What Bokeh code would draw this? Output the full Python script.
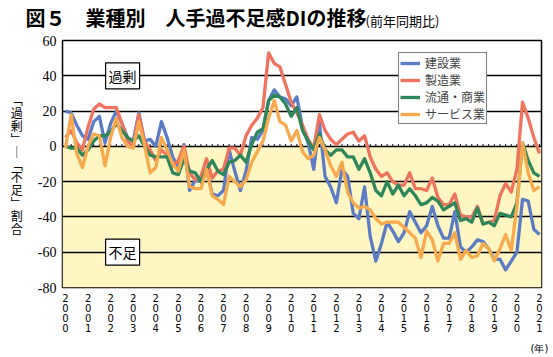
from bokeh.plotting import figure
from bokeh.layouts import column
from bokeh.models import (BoxAnnotation, Label, Legend, LegendItem, FixedTicker, Range1d)
from bokeh.embed import file_html
from bokeh.resources import INLINE

# ---------------- data (quarterly, 2000Q1 .. 2021Q1) ----------------
years = list(range(2000, 2022))
quarter_steps = [0.0, 0.25, 0.5, 0.75]

construction = [20, 19, 12, 6, 4, 14, 17, 2, 13, 20, 13, 5, 3, 19, 3, 4, 0,
                14, 5, -6, -12, 1, -25, -19, -20, -13, -27, -28, -25, -2, -14, -25, -14, 5,
                4, 9, 26, 32, 28, 27, 23, 28, 11, 2, -13, 13, -17, -23, -32, -13, -17,
                -38, -41, -23, -51, -65, -55, -43, -48, -54, -49, -37, -43, -49, -45, -34, -45, -52,
                -52, -37, -57, -60, -57, -53, -54, -58, -64, -64, -70, -65, -60, -30, -31, -47, -50]
manufacturing = [5, 9, 2, -2, 11, 21, 24, 22, 22, 22, 13, 3, 0, 18, 3, -2, -8,
                 -2, -5, -11, -8, 0, -15, -19, -17, -7, -18, -14, -13, -1, -1, -5, 6, 12,
                 16, 22, 53, 47, 45, 35, 25, 19, 12, 4, -1, 18, 9, 4, 1, 4, 7,
                 8, 3, 6, -6, -13, -17, -15, -20, -22, -22, -15, -24, -24, -25, -18, -29, -33,
                 -33, -27, -39, -40, -40, -34, -44, -43, -42, -28, -21, -26, -13, 25, 16, 5, -4]
distribution = [0, -1, -1, -5, -2, 3, 6, 6, 8, 13, 9, 5, 3, 6, 0, -5, -6,
                -6, -6, -15, -16, -7, -14, -15, -20, -13, -8, -14, -16, -9, -8, -5, -9, 1,
                8, 10, 26, 29, 28, 24, 17, 22, 9, 3, -2, 7, -2, -5, -2, -2, -6,
                -6, -13, -7, -15, -25, -28, -20, -27, -22, -28, -24, -28, -33, -32, -29, -31, -36,
                -34, -32, -42, -41, -43, -35, -44, -43, -45, -38, -39, -40, -32, 2, -8, -15, -17]
services = [-1, 18, -4, -12, 0, 7, 6, -11, 5, 16, 5, 0, -1, 14, 1, -15, -12,
            5, -2, -10, -14, -2, -23, -24, -24, -13, -28, -30, -33, -17, -20, -23, -19, -9,
            -3, 3, 16, 26, 14, 12, 3, 9, -3, -7, -5, 5, -2, -11, -17, -9, -26,
            -32, -35, -34, -36, -41, -44, -43, -43, -43, -46, -49, -52, -63, -48, -53, -65, -55,
            -55, -49, -64, -59, -63, -62, -55, -58, -65, -58, -50, -59, -34, 2, -15, -25, -23]

series_names = ["建設業", "製造業", "流通・商業", "サービス業"]
series_colors = ["#5a7cc6", "#f0735d", "#2e8758", "#f9a94d"]
y_ticks = [-80, -60, -40, -20, 0, 20, 40, 60]
y_tick_labels = ["-80", "-60", "-40", "-20", "0", "20", "40", "60"]
year_unit = "(年)"
y_caption = "﹁過剰﹂｜﹁不足﹂割合"
title_parts = ["図５", "業種別", "人手過不足感DIの推移"]
subtitle = "(前年同期比)"

quarters = [y + q for y in years for q in quarter_steps][:len(construction)]

JP = "Noto Sans CJK JP"

# ---------------- title strip ----------------
TH = 32
tf = figure(width=553, height=TH, x_range=Range1d(0, 553), y_range=Range1d(0, TH),
            output_backend="svg", toolbar_location=None, x_axis_type=None, y_axis_type=None,
            min_border=0, outline_line_color=None, background_fill_color="white",
            border_fill_color="white", frame_align=False)
for txt, xpx in zip(title_parts, [25, 85, 165]):
    tf.add_layout(Label(x=xpx, y=TH - 17, x_units="screen", y_units="screen", text=txt,
                        text_align="left", text_baseline="middle", text_font=JP,
                        text_font_size="20px", text_font_style="bold", text_color="black"))
tf.add_layout(Label(x=365, y=TH - 19.5, x_units="screen", y_units="screen", text=subtitle,
                    text_align="left", text_baseline="middle", text_font=JP,
                    text_font_size="13px", text_color="black"))

# ---------------- main chart ----------------
p = figure(width=553, height=325, x_range=(1999.867, 2021.09), y_range=(-80, 60),
           output_backend="svg", toolbar_location=None,
           min_border_left=62, min_border_right=12, min_border_top=8, min_border_bottom=67,
           background_fill_color="white", border_fill_color="white",
           outline_line_color="black", outline_line_width=1.5, frame_align=False)

p.add_layout(BoxAnnotation(top=0, fill_color="#fef6c3", fill_alpha=1.0,
                           line_color=None, level="image"))

p.xgrid.visible = False
p.ygrid.ticker = FixedTicker(ticks=y_ticks[1:-1])
p.ygrid.grid_line_color = "black"
p.ygrid.grid_line_width = 1.3

# small quarter ticks on the zero line
p.segment(x0=quarters, y0=[0] * len(quarters), x1=quarters, y1=[1.3] * len(quarters),
          line_color="black", line_width=1)

p.yaxis.ticker = FixedTicker(ticks=y_ticks)
p.yaxis.major_label_overrides = {t: l for t, l in zip(y_ticks, y_tick_labels)}
p.yaxis.axis_line_color = None
p.yaxis.major_tick_line_color = None
p.yaxis.minor_tick_line_color = None
p.yaxis.major_tick_out = 0
p.yaxis.major_tick_in = 0
p.yaxis.major_label_standoff = 6
p.yaxis.major_label_text_font = "Liberation Serif"
p.yaxis.major_label_text_font_size = "14px"
p.yaxis.major_label_text_color = "black"
p.yaxis.axis_label = "\n".join(y_caption)
p.yaxis.axis_label_orientation = "horizontal"
p.yaxis.axis_label_text_font = JP
p.yaxis.axis_label_text_font_size = "12px"
p.yaxis.axis_label_text_font_style = "normal"
p.yaxis.axis_label_text_line_height = 0.76
p.yaxis.axis_label_standoff = 12
p.yaxis.axis_label_text_color = "black"

year_labels = {y: "\n".join(str(y)) for y in years}
year_labels[years[-1]] = year_labels[years[-1]] + "\n\n" + year_unit
p.xaxis.ticker = FixedTicker(ticks=years)
p.xaxis.major_label_overrides = year_labels
p.xaxis.axis_line_color = None
p.xaxis.major_tick_line_color = None
p.xaxis.minor_tick_line_color = None
p.xaxis.major_tick_out = 0
p.xaxis.major_tick_in = 0
p.xaxis.major_label_standoff = 5
p.xaxis.major_label_text_font = "DejaVu Sans"
p.xaxis.major_label_text_font_size = "10px"
p.xaxis.major_label_text_line_height = 0.92
p.xaxis.major_label_text_color = "black"

renderers = []
for vals, col in zip([construction, manufacturing, distribution, services], series_colors):
    r = p.line(quarters, vals, line_color=col, line_width=3.3, line_join="round")
    renderers.append(r)

legend = Legend(items=[LegendItem(label=n, renderers=[r]) for n, r in zip(series_names, renderers)],
                location=(336, 163), orientation="vertical",
                label_text_font=JP, label_text_font_size="12px",
                label_height=16, glyph_height=16, glyph_width=20, label_standoff=5,
                spacing=0, padding=1, margin=0,
                border_line_color="black", border_line_width=1.2,
                background_fill_color="white", background_fill_alpha=1.0)
p.add_layout(legend)

for txt, yv in [("過剰", 40), ("不足", -60)]:
    p.add_layout(Label(x=2002.53, y=yv, text=txt, text_align="center", text_baseline="middle",
                       text_font=JP, text_font_size="14px", text_color="black",
                       background_fill_color="white", border_line_color="black",
                       border_line_width=1.2, padding=3))

layout = column(tf, p, spacing=0)
open("out.html", "w").write(file_html(layout, INLINE))
